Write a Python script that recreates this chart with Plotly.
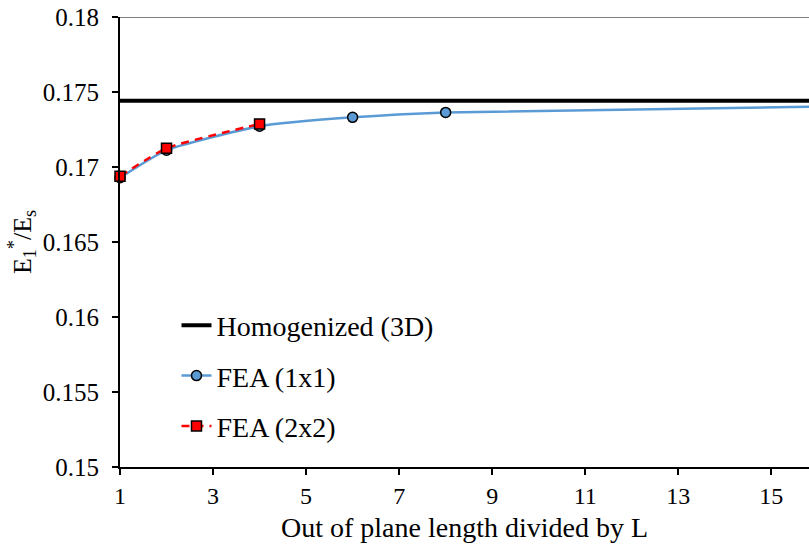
import plotly.graph_objects as go

# Out-of-plane length (multiples of L)
x_1x1 = [1, 2, 4, 6, 8, 16]
e_1x1 = [0.16928, 0.17112, 0.17272, 0.17331, 0.17364, 0.17403]

x_2x2 = [1, 2, 4]
e_2x2 = [0.16938, 0.17125, 0.17287]

x_homog = [1, 16]
e_homog = [0.17442, 0.17442]

x_ticks = [1, 3, 5, 7, 9, 11, 13, 15]
y_ticks = [0.15, 0.155, 0.16, 0.165, 0.17, 0.175, 0.18]
y_tick_text = ["0.15", "0.155", "0.16", "0.165", "0.17", "0.175", "0.18"]

FONT = "'Liberation Serif', 'DejaVu Serif', serif"
BLUE = "#5B9BD5"
RED = "#FF0000"

fig = go.Figure()

fig.add_trace(go.Scatter(
    x=x_homog, y=e_homog, mode="lines", name="Homogenized (3D)",
    line=dict(color="black", width=4), legendgroup="a",
))
fig.add_trace(go.Scatter(
    x=x_1x1, y=e_1x1, mode="lines+markers", name="FEA (1x1)",
    line=dict(color=BLUE, width=2.5, shape="spline", smoothing=0.5),
    marker=dict(symbol="circle", size=10, color=BLUE,
                line=dict(color="black", width=1.5)),
    cliponaxis=False, legendgroup="b",
))
fig.add_trace(go.Scatter(
    x=x_2x2, y=e_2x2, mode="lines+markers", name="FEA (2x2)",
    line=dict(color=RED, width=2.5, dash="8px,6px", shape="spline", smoothing=0.5),
    marker=dict(symbol="square", size=10, color=RED,
                line=dict(color="black", width=1.5)),
    cliponaxis=False, legendgroup="c",
))

# thin border line along the top of the plot area
fig.add_shape(type="line", xref="paper", yref="y", x0=0, x1=1, y0=0.18, y1=0.18,
              line=dict(color="#555555", width=1.5), layer="below")

fig.update_layout(
    width=809, height=548,
    margin=dict(l=120, r=0, t=17, b=81),
    paper_bgcolor="white", plot_bgcolor="white",
    font=dict(family=FONT, color="black", size=24),
    showlegend=True,
    legend=dict(
        x=0.082, y=0.37, xanchor="left", yanchor="top",
        font=dict(family=FONT, size=28, color="black"),
        bgcolor="rgba(0,0,0,0)", tracegroupgap=11,
    ),
    xaxis=dict(
        range=[1, 15.81], tickmode="array", tickvals=x_ticks,
        ticktext=[str(v) for v in x_ticks],
        showgrid=False, zeroline=False,
        showline=True, linecolor="black", linewidth=2,
        ticks="outside", ticklen=6, tickwidth=1.5, tickcolor="black",
        tickfont=dict(family=FONT, size=24),
        title=dict(text="Out of plane length divided by L",
                   font=dict(family=FONT, size=28), standoff=10),
    ),
    yaxis=dict(
        range=[0.15, 0.18], tickmode="array", tickvals=y_ticks,
        ticktext=y_tick_text, ticklabelstandoff=8,
        showgrid=False, zeroline=False,
        showline=True, linecolor="black", linewidth=2,
        ticks="outside", ticklen=6, tickwidth=1.5, tickcolor="black",
        tickfont=dict(family=FONT, size=25),
        title=dict(text="E<sub>1</sub><sup>*</sup>/E<sub>s</sub>",
                   font=dict(family=FONT, size=26), standoff=4),
    ),
)

fig.write_html("out.html")
